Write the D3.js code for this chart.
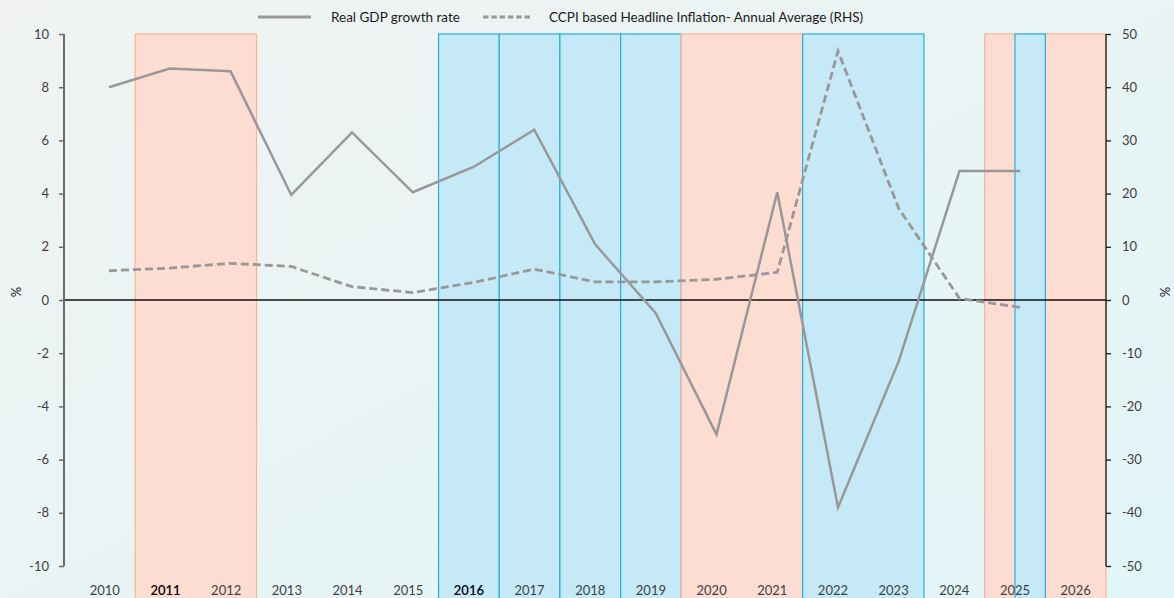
<!DOCTYPE html>
<html>
<head>
<meta charset="utf-8">
<script src="https://cdn.jsdelivr.net/npm/d3@7"></script>
<style>
  html, body { margin: 0; padding: 0; }
  body { width: 1174px; height: 598px; overflow: hidden; }
  svg { display: block; font-family: Lato, "Open Sans", sans-serif; }
</style>
</head>
<body>
<svg id="chart" width="1174" height="598"></svg>
<script>
// ---------------- data ----------------
const years = ["2010","2011","2012","2013","2014","2015","2016","2017","2018","2019","2020","2021","2022","2023","2024","2025","2026"];
const gdpYears = ["2010","2011","2012","2013","2014","2015","2016","2017","2018","2019","2020","2021","2022","2023","2024","2025"];
const gdpGrowth = [8.0, 8.7, 8.6, 3.95, 6.3, 4.05, 5.0, 6.4, 2.1, -0.5, -5.05, 4.05, -7.8, -2.3, 4.85, 4.85];
const inflation = [5.5, 6.0, 6.9, 6.3, 2.5, 1.4, 3.3, 5.8, 3.4, 3.4, 3.9, 5.2, 46.8, 17.2, 0.3, -1.4];
const leftTicks = [-10, -8, -6, -4, -2, 0, 2, 4, 6, 8, 10];
const rightTicks = [-50, -40, -30, -20, -10, 0, 10, 20, 30, 40, 50];
const boldYears = ["2011", "2016"];
const seriesNames = ["Real GDP growth rate", "CCPI based Headline Inflation- Annual Average (RHS)"];
// shaded periods: kind pink / blue; "half" = second half of the year only
const shadePeriods = [
  {from: "2011", to: "2012", kind: "pink"},
  {from: "2016", to: "2016", kind: "blue"},
  {from: "2017", to: "2017", kind: "blue"},
  {from: "2018", to: "2018", kind: "blue"},
  {from: "2019", to: "2019", kind: "blue"},
  {from: "2020", to: "2021", kind: "pink"},
  {from: "2022", to: "2023", kind: "blue"},
  {from: "2025", to: "2025", kind: "pink"},
  {from: "2026", to: "2026", kind: "pink"},
  {from: "2025", to: "2025", kind: "blue", half: true}
];

// ---------------- layout ----------------
const W = 1174, H = 598;
const axL = 64, axR = 1106, yTop = 34, yBot = 566;
const svg = d3.select("#chart");

const defs = svg.append("defs");
const grad = defs.append("linearGradient").attr("id", "bg")
  .attr("x1", "0%").attr("y1", "0%").attr("x2", "100%").attr("y2", "100%");
grad.append("stop").attr("offset", "0%").attr("stop-color", "#f0f3f1");
grad.append("stop").attr("offset", "100%").attr("stop-color", "#e1f5f7");
svg.append("rect").attr("width", W).attr("height", H).attr("fill", "url(#bg)");

const xBand = d3.scaleBand().domain(years).range([74.5, axR]).paddingInner(0).paddingOuter(0);
const xPt = d3.scalePoint().domain(years).range([109, 1081]);
const yL = d3.scaleLinear().domain([-10, 10]).range([yBot, yTop]);
const yR = d3.scaleLinear().domain([-50, 50]).range([yBot, yTop]);

const colors = {
  pink: {fill: "#fddcd2", stroke: "#f8b496"},
  blue: {fill: "#c6e9f8", stroke: "#22b0e5"}
};

// shaded periods
svg.append("g").selectAll("rect").data(shadePeriods).join("rect")
  .attr("x", d => xBand(d.from) + (d.half ? xBand.bandwidth() / 2 : 0))
  .attr("y", yTop)
  .attr("width", d => xBand(d.to) + xBand.bandwidth() - (xBand(d.from) + (d.half ? xBand.bandwidth() / 2 : 0)))
  .attr("height", H - yTop + 2)
  .attr("fill", d => colors[d.kind].fill)
  .attr("stroke", d => colors[d.kind].stroke)
  .attr("stroke-width", 1.2);

// zero line
svg.append("line").attr("x1", axL).attr("x2", axR)
  .attr("y1", yL(0)).attr("y2", yL(0))
  .attr("stroke", "#111").attr("stroke-width", 1.3);

const fmt = d => String(d);

// left axis
const gL = svg.append("g").attr("transform", `translate(${axL},0)`)
  .call(d3.axisLeft(yL).tickValues(leftTicks).tickSize(5).tickPadding(10).tickFormat(fmt));
gL.select(".domain").attr("stroke", "#6b6b6b").attr("stroke-width", 2).attr("d", `M0,${yTop}V${yBot}`);
gL.selectAll(".tick line").attr("stroke", "#6b6b6b").attr("stroke-width", 1.5);
gL.selectAll(".tick text").attr("fill", "#3f3f3f").style("font-size", "13px").style("font-family", "Lato, sans-serif");

// right axis
const gR = svg.append("g").attr("transform", `translate(${axR},0)`)
  .call(d3.axisRight(yR).tickValues(rightTicks).tickSize(5).tickPadding(11).tickFormat(fmt));
gR.select(".domain").attr("stroke", "#1a1a1a").attr("stroke-width", 1.3).attr("d", `M0,${yTop}V${yBot}`);
gR.selectAll(".tick line").attr("stroke", "#1a1a1a").attr("stroke-width", 1.3);
gR.selectAll(".tick text").attr("fill", "#3f3f3f").style("font-size", "13px").style("font-family", "Lato, sans-serif");

// x labels
svg.append("g").selectAll("text").data(years).join("text")
  .attr("x", d => xBand(d) + xBand.bandwidth() / 2)
  .attr("y", 595)
  .attr("text-anchor", "middle")
  .attr("fill", d => boldYears.includes(d) ? "#000" : "#3f3f3f")
  .style("font-size", "13px")
  .style("font-weight", d => boldYears.includes(d) ? "600" : "400")
  .text(d => d);

// axis titles
svg.append("text").attr("transform", `translate(21,292) rotate(-90)`)
  .attr("text-anchor", "middle").attr("fill", "#222").style("font-size", "13px").text("%");
svg.append("text").attr("transform", `translate(1170,292) rotate(-90)`)
  .attr("text-anchor", "middle").attr("fill", "#222").style("font-size", "13px").text("%");

// lines
const gdpLine = d3.line().x((d, i) => xPt(gdpYears[i])).y(d => yL(d));
const infLine = d3.line().x((d, i) => xPt(gdpYears[i])).y(d => yR(d));
svg.append("path").datum(inflation).attr("d", infLine)
  .attr("fill", "none").attr("stroke", "#989898").attr("stroke-width", 2.8)
  .attr("stroke-dasharray", "8,4");
svg.append("path").datum(gdpGrowth).attr("d", gdpLine)
  .attr("fill", "none").attr("stroke", "#989898").attr("stroke-width", 2.5)
  .attr("stroke-linejoin", "miter");

// legend
const lg = svg.append("g");
lg.append("line").attr("x1", 258).attr("x2", 311).attr("y1", 17).attr("y2", 17)
  .attr("stroke", "#989898").attr("stroke-width", 2.8);
lg.append("text").attr("x", 331).attr("y", 22).attr("fill", "#1a1a1a")
  .style("font-size", "13.5px").text(seriesNames[0]);
lg.append("line").attr("x1", 483).attr("x2", 532).attr("y1", 17).attr("y2", 17)
  .attr("stroke", "#989898").attr("stroke-width", 2.8).attr("stroke-dasharray", "5.5,2.8");
lg.append("text").attr("x", 549).attr("y", 22).attr("fill", "#1a1a1a")
  .style("font-size", "13.5px").text(seriesNames[1]);
</script>
</body>
</html>
